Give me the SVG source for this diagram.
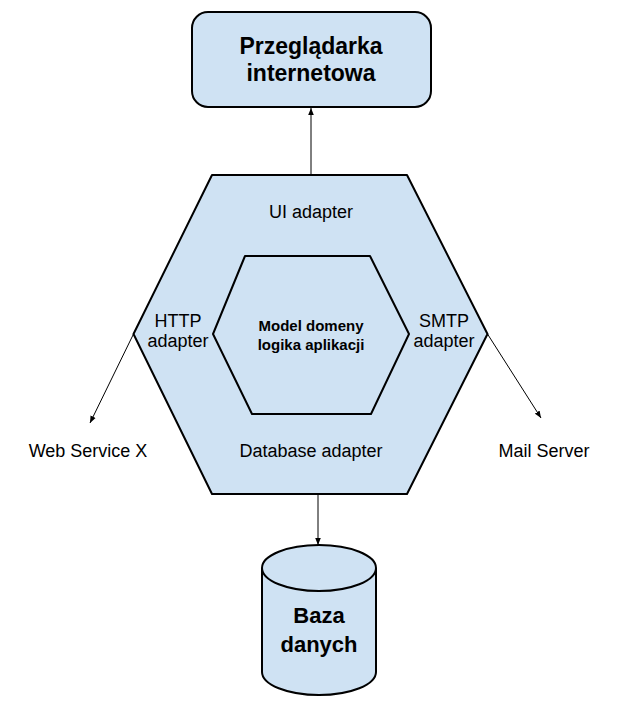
<svg xmlns="http://www.w3.org/2000/svg" width="632" height="705" viewBox="0 0 632 705">
<defs>
<marker id="ah" viewBox="0 0 10 10" refX="10" refY="5" markerWidth="7" markerHeight="7" orient="auto" markerUnits="userSpaceOnUse">
<path d="M0,1 L10,5 L0,9 Z" fill="#000"/>
</marker>
<style>
.shape{fill:#cfe2f3;stroke:#000;stroke-width:2;stroke-linejoin:round}
.conn{fill:none;stroke:#000;stroke-width:1;marker-end:url(#ah)}
text{font-family:"Liberation Sans",Arial,sans-serif;fill:#000;text-anchor:middle}
.big{font-size:22px;font-weight:bold}
.lbl{font-size:18px}
.core{font-size:15px;font-weight:bold}
</style>
</defs>
<rect width="632" height="705" fill="#fff"/>
<g id="connectors">
<line class="conn" x1="311" y1="175" x2="311" y2="108"/>
<line class="conn" x1="318" y1="494" x2="318" y2="545"/>
<line class="conn" x1="133.5" y1="334" x2="90" y2="423"/>
<line class="conn" x1="487.5" y1="334" x2="541" y2="418"/>
</g>
<g id="browser">
<rect class="shape" x="192" y="12" width="239" height="95" rx="16"/>
<text class="big" x="311" y="54" style="font-size:23px">Przeglądarka</text>
<text class="big" x="311" y="81" style="font-size:23px">internetowa</text>
</g>
<g id="adapters">
<polygon class="shape" points="212,175 407,175 487.5,334 407,494 212,494 133.5,334"/>
<text class="lbl" x="311" y="218">UI adapter</text>
<text class="lbl" x="178" y="327">HTTP</text>
<text class="lbl" x="178" y="347">adapter</text>
<text class="lbl" x="444" y="327">SMTP</text>
<text class="lbl" x="444" y="347">adapter</text>
<text class="lbl" x="311" y="457">Database adapter</text>
</g>
<g id="domain">
<polygon class="shape" points="245,256 370,256 409,334 371,414 252,414 213,334"/>
<text class="core" x="311" y="331">Model domeny</text>
<text class="core" x="311" y="350">logika aplikacji</text>
</g>
<g id="database">
<path class="shape" d="M262,568 A57,23 0 0 1 376,568 L376,672 A57,23 0 0 1 262,672 Z"/>
<path d="M262,568 A57,23 0 0 0 376,568" fill="none" stroke="#000" stroke-width="2"/>
<text class="big" x="319" y="623">Baza</text>
<text class="big" x="319" y="652">danych</text>
</g>
<g id="webservice">
<text class="lbl" x="88" y="457">Web Service X</text>
</g>
<g id="mailserver">
<text class="lbl" x="544" y="457">Mail Server</text>
</g>
</svg>
